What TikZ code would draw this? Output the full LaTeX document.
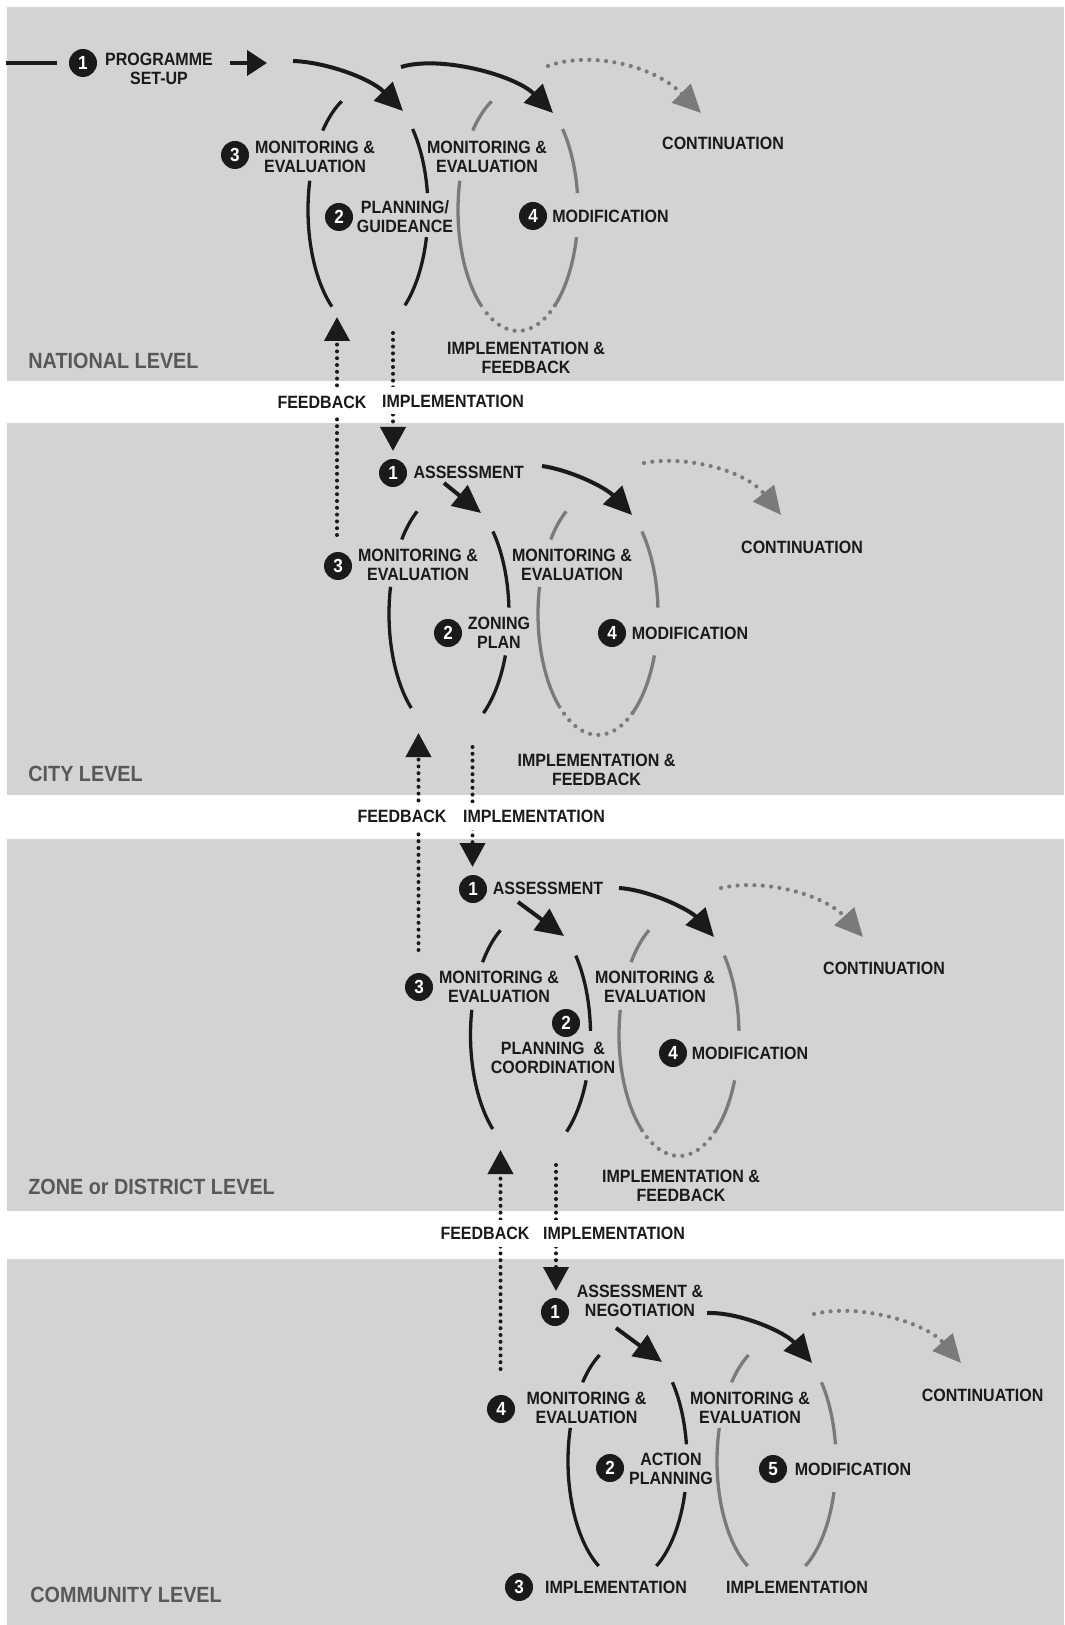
\documentclass[tikz,border=0pt]{standalone}
\usepackage{fontspec}
\setmainfont{Liberation Sans}[FakeStretch=0.9]
\usetikzlibrary{arrows.meta}
\definecolor{panelgray}{RGB}{211,211,211}
\definecolor{ringgray}{RGB}{122,122,122}
\definecolor{levelgray}{RGB}{88,88,88}
\definecolor{inkblack}{RGB}{26,26,26}
\tikzset{
  blackarc/.style={draw=inkblack, line width=1.65pt},
  grayarc/.style={draw=ringgray, line width=1.65pt},
  graydots/.style={draw=ringgray, line width=2.1pt, line cap=round, dash pattern=on 0pt off 4.2pt},
  stagetext/.style={font=\fontsize{8.9}{9.6}\selectfont\bfseries, text=inkblack, align=center, inner sep=1pt},
  badge/.style={circle, fill=inkblack, minimum size=14pt, inner sep=0pt, text=white, font=\fontsize{9.5}{9.5}\selectfont\bfseries},
  leveltext/.style={font=\fontsize{11}{11}\selectfont\bfseries, text=levelgray, anchor=west, inner sep=0pt},
  steparrow/.style={draw=inkblack, line width=2pt, -{Triangle[length=14pt,width=13pt]}},
  contarrow/.style={draw=ringgray, line width=2.1pt, line cap=round, dash pattern=on 0pt off 4.2pt, -{Triangle[length=14pt,width=13pt]}},
  linkarrow/.style={draw=inkblack, line width=2pt, line cap=round, dash pattern=on 0pt off 3.4pt, -{Triangle[length=12pt,width=12.5pt]}},
  linktext/.style={stagetext, fill=white, inner xsep=1pt, inner ysep=3.6pt}
}

\begin{document}
\begin{tikzpicture}[x=0.5pt, y=-0.5pt]
\useasboundingbox (0,0) rectangle (1064,1625);

% level panels
\fill[panelgray] (7,7) rectangle (1064,381);
\fill[panelgray] (7,423) rectangle (1064,795);
\fill[panelgray] (7,839) rectangle (1064,1211);
\fill[panelgray] (7,1259) rectangle (1064,1625);

% national level
\foreach \cx/\ringstyle in {368/blackarc, 518/grayarc}
  \foreach \a/\b in {221/244, 127/194, -42/-8, 13/52}
    \draw[\ringstyle] ({\cx+60*cos(\a)},{210+121*sin(\a)}) arc[start angle=\a, end angle=\b, x radius=60, y radius=121];
\draw[graydots] ({518+60*cos(52)},{210+121*sin(52)}) arc[start angle=52, end angle=127, x radius=60, y radius=121];

\node[badge] (n-one) at (83,63) {1};
\node[stagetext] (n-setup) at (159,68.5) {PROGRAMME\\SET-UP};
\coordinate (n-in) at (6,63);
\draw[inkblack, line width=1.8pt] (n-in) -- ([xshift=-6pt]n-one.west);
\coordinate (n-s0) at (230,63);
\coordinate (n-e0) at (267,63);
\draw[steparrow, -{Triangle[length=10pt,width=12.5pt]}] (n-s0) -- (n-e0);
\coordinate (n-s1) at (293,61);
\coordinate (n-e1) at (403,111);
\draw[steparrow] (n-s1) .. controls (325,62) and (370,78) .. (n-e1);
\coordinate (n-s2) at (401,67);
\coordinate (n-e2) at (553,113);
\draw[steparrow] (n-s2) .. controls (440,55) and (515,75) .. (n-e2);
\coordinate (n-s3) at (548,66);
\coordinate (n-e3) at (701,113);
\draw[contarrow] (n-s3) .. controls (585,52) and (650,62) .. (n-e3);

\node[stagetext] (n-cont) at (723,143) {CONTINUATION};
\node[badge] (n-three) at (235,155) {3};
\node[stagetext] (n-mon) at (315,156.5) {MONITORING \&\\EVALUATION};
\node[stagetext] (n-mon2) at (487,156.5) {MONITORING \&\\EVALUATION};
\node[badge] (n-two) at (339,217) {2};
\node[stagetext] (n-plan) at (405,216.5) {PLANNING/\\GUIDEANCE};
\node[badge] (n-four) at (533,216) {4};
\node[stagetext] (n-mod) at (610.5,216) {MODIFICATION};
\node[stagetext] (n-impl) at (526,357.5) {IMPLEMENTATION \&\\FEEDBACK};
\node[leveltext] (n-level) at (28,361) {NATIONAL LEVEL};

% national - city links
\coordinate (n-fb-from) at (337,535);
\coordinate (n-fb-to) at (337,317);
\draw[linkarrow] (n-fb-from) -- (n-fb-to);
\coordinate (n-im-from) at (393,333);
\coordinate (n-im-to) at (393,451);
\draw[linkarrow] (n-im-from) -- (n-im-to);
\node[linktext] (n-fb) at (322,402) {FEEDBACK};
\node[linktext] (n-im) at (453,401) {IMPLEMENTATION};

% city level
\foreach \cx/\ringstyle in {449/blackarc, 598/grayarc}
  \foreach \a/\b in {218/238, 129/193, -43/-3, 20/55}
    \draw[\ringstyle] ({\cx+60*cos(\a)},{614+121*sin(\a)}) arc[start angle=\a, end angle=\b, x radius=60, y radius=121];
\draw[graydots] ({598+60*cos(55)},{614+121*sin(55)}) arc[start angle=55, end angle=129, x radius=60, y radius=121];

\node[badge] (c-one) at (393,473) {1};
\node[stagetext] (c-assess) at (468.7,472) {ASSESSMENT};
\coordinate (c-s1) at (444,483);
\coordinate (c-e1) at (481,513);
\draw[steparrow] (c-s1) -- (c-e1);
\coordinate (c-s2) at (542,466);
\coordinate (c-e2) at (632,515);
\draw[steparrow] (c-s2) .. controls (570,470) and (605,487) .. (c-e2);
\coordinate (c-s3) at (644,463);
\coordinate (c-e3) at (781,515);
\draw[contarrow] (c-s3) .. controls (685,455) and (745,470) .. (c-e3);

\node[stagetext] (c-cont) at (802,547) {CONTINUATION};
\node[badge] (c-three) at (338,566) {3};
\node[stagetext] (c-mon) at (418,565) {MONITORING \&\\EVALUATION};
\node[stagetext] (c-mon2) at (572,565) {MONITORING \&\\EVALUATION};
\node[badge] (c-two) at (448,633) {2};
\node[stagetext] (c-zone) at (499,633) {ZONING\\PLAN};
\node[badge] (c-four) at (612,633) {4};
\node[stagetext] (c-mod) at (690,633) {MODIFICATION};
\node[stagetext] (c-impl) at (596.5,769.5) {IMPLEMENTATION \&\\FEEDBACK};
\node[leveltext] (c-level) at (28,774) {CITY LEVEL};

% city - zone links
\coordinate (c-fb-from) at (418.5,950);
\coordinate (c-fb-to) at (418.5,733);
\draw[linkarrow] (c-fb-from) -- (c-fb-to);
\coordinate (c-im-from) at (472.5,747);
\coordinate (c-im-to) at (472.5,867);
\draw[linkarrow] (c-im-from) -- (c-im-to);
\node[linktext] (c-fb) at (402,816) {FEEDBACK};
\node[linktext] (c-im) at (534,816) {IMPLEMENTATION};

% zone or district level
\foreach \cx/\ringstyle in {530.5/blackarc, 679/grayarc}
  \foreach \a/\b in {217/240, 129/192, -41/-2, 22/53}
    \draw[\ringstyle] ({\cx+60*cos(\a)},{1035+121*sin(\a)}) arc[start angle=\a, end angle=\b, x radius=60, y radius=121];
\draw[graydots] ({679+60*cos(53)},{1035+121*sin(53)}) arc[start angle=53, end angle=129, x radius=60, y radius=121];

\node[badge] (z-one) at (473,889) {1};
\node[stagetext] (z-assess) at (548,888) {ASSESSMENT};
\coordinate (z-s1) at (518,902);
\coordinate (z-e1) at (564,936);
\draw[steparrow] (z-s1) -- (z-e1);
\coordinate (z-s2) at (619,888);
\coordinate (z-e2) at (714,937);
\draw[steparrow] (z-s2) .. controls (650,890) and (690,910) .. (z-e2);
\coordinate (z-s3) at (721,888);
\coordinate (z-e3) at (863,937);
\draw[contarrow] (z-s3) .. controls (765,878) and (825,895) .. (z-e3);

\node[stagetext] (z-cont) at (884,968) {CONTINUATION};
\node[badge] (z-three) at (419,987) {3};
\node[stagetext] (z-mon) at (499,987) {MONITORING \&\\EVALUATION};
\node[stagetext] (z-mon2) at (655,987) {MONITORING \&\\EVALUATION};
\node[badge] (z-two) at (566,1023) {2};
\node[stagetext] (z-plan) at (553,1057.5) {PLANNING \ \&\\COORDINATION};
\node[badge] (z-four) at (673,1053) {4};
\node[stagetext] (z-mod) at (750,1053) {MODIFICATION};
\node[stagetext] (z-impl) at (681,1186) {IMPLEMENTATION \&\\FEEDBACK};
\node[leveltext] (z-level) at (28,1187) {ZONE or DISTRICT LEVEL};

% zone - community links
\coordinate (z-fb-from) at (500.5,1369);
\coordinate (z-fb-to) at (500.5,1150);
\draw[linkarrow] (z-fb-from) -- (z-fb-to);
\coordinate (z-im-from) at (556,1165);
\coordinate (z-im-to) at (556,1291);
\draw[linkarrow] (z-im-from) -- (z-im-to);
\node[linktext] (z-fb) at (485,1233) {FEEDBACK};
\node[linktext] (z-im) at (614,1233) {IMPLEMENTATION};

% community level
\foreach \cx/\ringstyle in {627.5/blackarc, 776.5/grayarc}
  \foreach \a/\b in {221/242, 119/196, -41/-8, 15/61}
    \draw[\ringstyle] ({\cx+59.5*cos(\a)},{1461+120*sin(\a)}) arc[start angle=\a, end angle=\b, x radius=59.5, y radius=120];

\node[badge] (m-one) at (555,1312) {1};
\node[stagetext] (m-assess) at (640,1300.5) {ASSESSMENT \&\\NEGOTIATION};
\coordinate (m-s1) at (616,1328);
\coordinate (m-e1) at (662,1362);
\draw[steparrow] (m-s1) -- (m-e1);
\coordinate (m-s2) at (707,1313);
\coordinate (m-e2) at (812,1363);
\draw[steparrow] (m-s2) .. controls (740,1312) and (785,1332) .. (m-e2);
\coordinate (m-s3) at (814,1314);
\coordinate (m-e3) at (961,1363);
\draw[contarrow] (m-s3) .. controls (858,1303) and (925,1322) .. (m-e3);

\node[stagetext] (m-cont) at (982.6,1395.7) {CONTINUATION};
\node[badge] (m-four) at (501,1409) {4};
\node[stagetext] (m-mon) at (586.5,1408) {MONITORING \&\\EVALUATION};
\node[stagetext] (m-mon2) at (750,1408) {MONITORING \&\\EVALUATION};
\node[badge] (m-two) at (610,1468) {2};
\node[stagetext] (m-action) at (671,1468.5) {ACTION\\PLANNING};
\node[badge] (m-five) at (773,1469) {5};
\node[stagetext] (m-mod) at (853,1469) {MODIFICATION};
\node[badge] (m-three) at (519,1587) {3};
\node[stagetext] (m-impl) at (616,1587) {IMPLEMENTATION};
\node[stagetext] (m-impl2) at (797,1587) {IMPLEMENTATION};
\node[leveltext] (m-level) at (30,1595) {COMMUNITY LEVEL};
\end{tikzpicture}
\end{document}
